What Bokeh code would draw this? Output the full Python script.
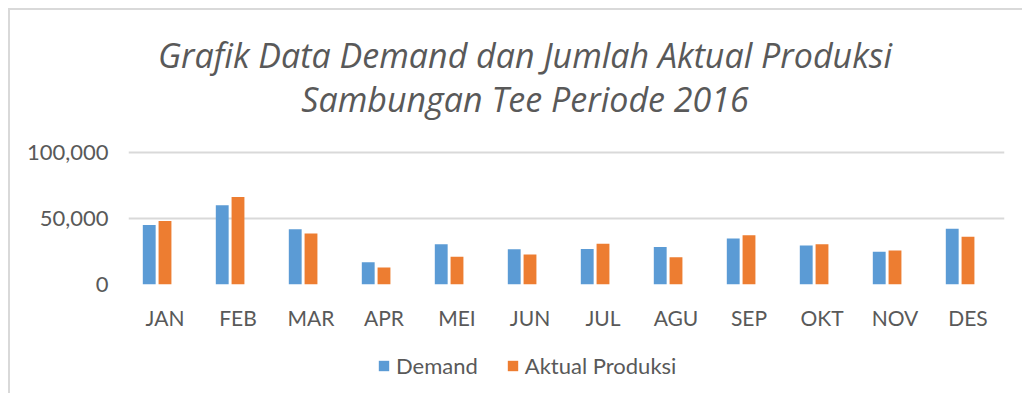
from bokeh.plotting import figure
from bokeh.layouts import column
from bokeh.models import (ColumnDataSource, FactorRange, Range1d, FixedTicker,
                          NumeralTickFormatter, Legend, LegendItem, Div)
from bokeh.transform import dodge
from bokeh.embed import file_html
from bokeh.resources import INLINE

months = ["JAN", "FEB", "MAR", "APR", "MEI", "JUN", "JUL", "AGU", "SEP", "OKT", "NOV", "DES"]
demand = [45200, 60200, 41900, 16800, 30500, 26700, 26900, 28400, 35000, 29700, 24900, 42400]
aktual = [48200, 66500, 38800, 12900, 21100, 22800, 31000, 20600, 37300, 30500, 25900, 36300]
y_ticks = [0, 50000, 100000]
title_lines = ["Grafik Data Demand dan Jumlah Aktual Produksi", "Sambungan Tee Periode 2016"]
series_names = ["Demand", "Aktual Produksi"]
series_colors = ["#5B9BD5", "#ED7D31"]

FONT = "Lato"
GREY = "#595959"
GRID = "#d9d9d9"

src = ColumnDataSource(dict(month=months, demand=demand, aktual=aktual))

# title block
title_div = Div(text="<br>".join(title_lines), width=1002, height=110,
                styles={"font-family": "'Open Sans', sans-serif", "font-style": "italic",
                        "font-size": "34px", "line-height": "44px", "color": GREY,
                        "text-align": "center", "padding-left": "18px", "padding-top": "18px",
                        "box-sizing": "border-box", "background": "white", "white-space": "nowrap"})

p = figure(x_range=FactorRange(*months), y_range=Range1d(0, 104000),
           frame_width=876, frame_height=137,
           min_border_left=118, min_border_right=8, min_border_top=17, min_border_bottom=60,
           output_backend="svg", toolbar_location=None, title=None)

p.vbar(x=dodge("month", -0.216, range=p.x_range), top="demand", width=0.176,
       source=src, fill_color=series_colors[0], line_color=None)
p.vbar(x=dodge("month", 0.0, range=p.x_range), top="aktual", width=0.176,
       source=src, fill_color=series_colors[1], line_color=None)

p.outline_line_color = None
p.background_fill_color = "white"
p.border_fill_color = "white"

p.xgrid.grid_line_color = None
p.ygrid.grid_line_color = GRID
p.ygrid.grid_line_width = 2
p.yaxis.ticker = FixedTicker(ticks=y_ticks)
p.yaxis.formatter = NumeralTickFormatter(format="0,0")

for ax in (p.xaxis[0], p.yaxis[0]):
    ax.axis_line_color = None
    ax.major_tick_line_color = None
    ax.minor_tick_line_color = None
    ax.major_tick_out = 0
    ax.major_tick_in = 0
    ax.major_label_text_font = FONT
    ax.major_label_text_font_size = "21px"
    ax.major_label_text_color = GREY
p.yaxis.major_label_text_font_size = "22px"
p.xaxis.major_label_standoff = 20
p.yaxis.major_label_standoff = 20

# legend strip below the chart (swatches only; no data drawn)
lf = figure(width=1002, height=49, x_range=Range1d(0, 1), y_range=Range1d(0, 1),
            min_border=0, output_backend="svg", toolbar_location=None, title=None)
lf.axis.visible = False
lf.grid.visible = False
lf.outline_line_color = None
lf.background_fill_color = "white"
lf.border_fill_color = "white"
swatch = ColumnDataSource(dict(x=[float("nan")], top=[float("nan")]))
lr1 = lf.vbar(x="x", top="top", width=0.1, source=swatch, fill_color=series_colors[0], line_color=None)
lr2 = lf.vbar(x="x", top="top", width=0.1, source=swatch, fill_color=series_colors[1], line_color=None)
legend = Legend(items=[LegendItem(label=series_names[0], renderers=[lr1]),
                       LegendItem(label=series_names[1], renderers=[lr2])],
                orientation="horizontal", location=(249, 14),
                padding=0, margin=0, spacing=28, label_standoff=6,
                glyph_width=13, glyph_height=13, label_height=21,
                label_text_font=FONT, label_text_font_size="22px", label_text_color=GREY,
                border_line_color=None, background_fill_alpha=0)
lf.add_layout(legend, "center")

layout = column(title_div, p, lf, spacing=0)
layout.styles = {"border-left": "2px solid #d9d9d9", "border-top": "2px solid #d9d9d9",
                 "margin-left": "8px", "margin-top": "8px", "background": "white"}

open("out.html", "w").write(file_html(layout, INLINE))
